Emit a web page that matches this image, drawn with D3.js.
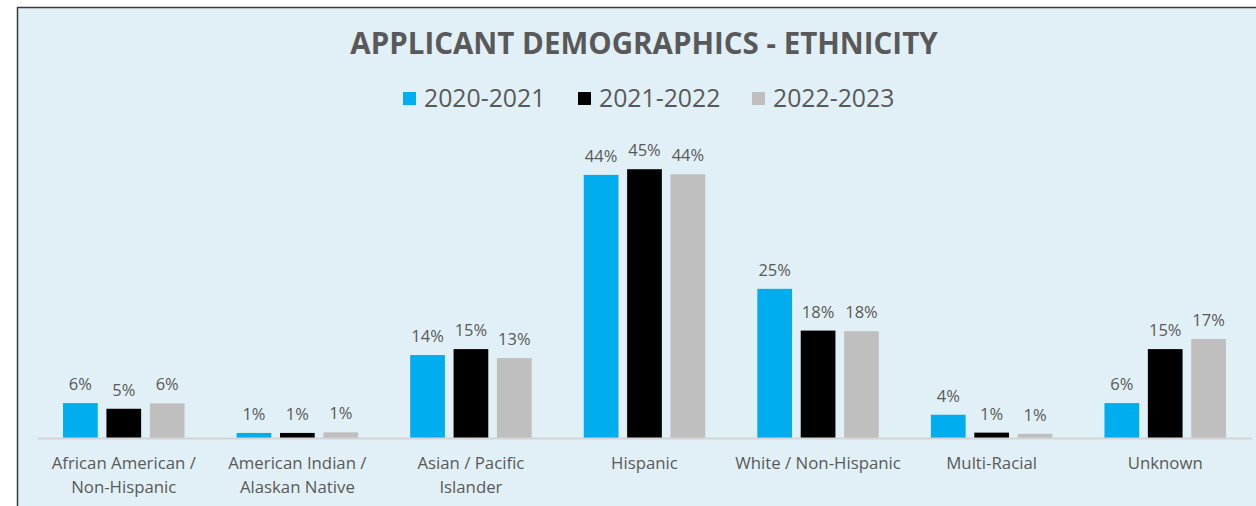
<!DOCTYPE html>
<html>
<head>
<meta charset="utf-8">
<script src="https://cdn.jsdelivr.net/npm/d3@7"></script>
<style>
  body { margin: 0; background: #fff; }
  svg { display: block; font-family: "Open Sans", sans-serif; }
</style>
</head>
<body>
<div id="chart"></div>
<script>
// DATA
const categories = [
  'African American / Non-Hispanic',
  'American Indian / Alaskan Native',
  'Asian / Pacific Islander',
  'Hispanic',
  'White / Non-Hispanic',
  'Multi-Racial',
  'Unknown'
];
const categoryLines = [
  ['African American /', 'Non-Hispanic'],
  ['American Indian /', 'Alaskan Native'],
  ['Asian / Pacific', 'Islander'],
  ['Hispanic'],
  ['White / Non-Hispanic'],
  ['Multi-Racial'],
  ['Unknown']
];
const seriesNames = ['2020-2021', '2021-2022', '2022-2023'];
const values2020 = [5.85, 0.85, 13.9, 44.1, 25.0, 3.9, 5.85];
const values2021 = [4.9, 0.85, 14.9, 45.05, 18.0, 0.9, 14.9];
const values2022 = [5.8, 0.95, 13.4, 44.2, 17.9, 0.7, 16.6];
const seriesValues = [values2020, values2021, values2022];

// SETTINGS
const width = 1256;
const height = 506;
const colors = ['#00adee', '#000000', '#bfbfbf'];
const textColor = '#595959';
const bgColor = '#e1f0f6';

const svg = d3.select('#chart')
  .append('svg')
  .attr('width', width)
  .attr('height', height);

// background panel with border
svg.append('rect')
  .attr('x', 17.5)
  .attr('y', 7.5)
  .attr('width', width + 20)
  .attr('height', height + 20)
  .attr('fill', bgColor)
  .attr('stroke', '#3a3a3a')
  .attr('stroke-width', 1.5);

// TITLE
svg.append('text')
  .attr('x', 644)
  .attr('y', 54)
  .attr('text-anchor', 'middle')
  .attr('fill', textColor)
  .style('font-weight', 'bold')
  .style('font-size', '29.5px')
  .text('APPLICANT DEMOGRAPHICS - ETHNICITY');

// LEGEND
const legendX = [403, 578, 752];
const legend = svg.append('g');
seriesNames.forEach((name, i) => {
  legend.append('rect')
    .attr('x', legendX[i])
    .attr('y', 92)
    .attr('width', 13)
    .attr('height', 13)
    .attr('fill', colors[i]);
  legend.append('text')
    .attr('x', legendX[i] + 21)
    .attr('y', 107)
    .attr('fill', textColor)
    .style('font-size', '24.8px')
    .text(name);
});

// SCALES
const baseline = 438;
const x0 = d3.scaleBand()
  .domain(categories)
  .range([37, 1252])
  .paddingInner(0.3)
  .paddingOuter(0.15);

const x1 = d3.scaleBand()
  .domain(seriesNames)
  .range([0, x0.bandwidth()])
  .paddingInner(0.2);

const y = d3.scaleLinear()
  .domain([0, 45])
  .range([baseline, baseline - 268.5]);

const data = categories.map((c, ci) => ({
  category: c,
  values: seriesNames.map((s, si) => ({ series: s, si: si, value: seriesValues[si][ci] }))
}));

// BARS
const groups = svg.selectAll('.group')
  .data(data)
  .enter()
  .append('g')
  .attr('class', 'group')
  .attr('transform', d => `translate(${x0(d.category)}, 0)`);

groups.selectAll('rect')
  .data(d => d.values)
  .enter()
  .append('rect')
  .attr('x', d => x1(d.series))
  .attr('y', d => y(d.value))
  .attr('width', x1.bandwidth())
  .attr('height', d => y(0) - y(d.value))
  .attr('fill', d => colors[d.si]);

// VALUE LABELS
groups.selectAll('.val')
  .data(d => d.values)
  .enter()
  .append('text')
  .attr('class', 'val')
  .attr('x', d => x1(d.series) + x1.bandwidth() / 2)
  .attr('y', d => y(d.value) - 13)
  .attr('text-anchor', 'middle')
  .attr('fill', textColor)
  .style('font-size', '16.5px')
  .text(d => Math.round(d.value) + '%');

// X AXIS
const xAxis = d3.axisBottom(x0).tickSize(0).tickFormat('');
const xAxisGroup = svg.append('g')
  .attr('transform', `translate(0, ${baseline})`)
  .call(xAxis);
xAxisGroup.select('.domain')
  .attr('stroke', '#d4d4d4')
  .attr('stroke-width', 2);

// category labels (wrapped)
categories.forEach((c, i) => {
  const t = svg.append('text')
    .attr('x', x0(c) + x0.bandwidth() / 2)
    .attr('y', 469)
    .attr('text-anchor', 'middle')
    .attr('fill', textColor)
    .style('font-size', '16.8px');
  categoryLines[i].forEach((line, li) => {
    t.append('tspan')
      .attr('x', x0(c) + x0.bandwidth() / 2)
      .attr('dy', li === 0 ? 0 : 24)
      .text(line);
  });
});
</script>
</body>
</html>
